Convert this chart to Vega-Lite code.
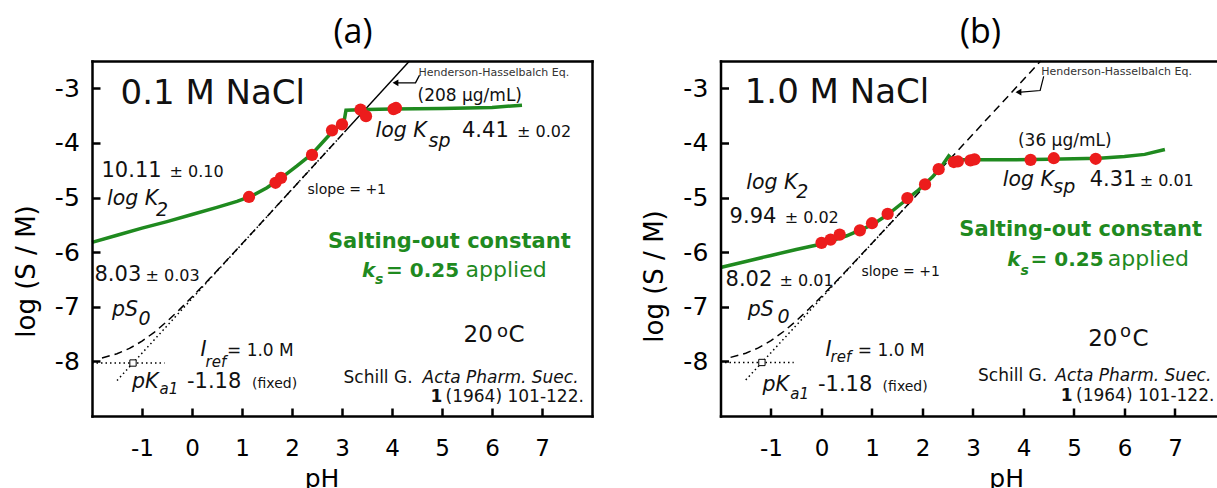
{
  "$schema": "https://vega.github.io/schema/vega-lite/v6.json",
  "padding": {"left": 13, "top": 16, "right": 0, "bottom": 0},
  "bounds": "flush",
  "spacing": 128.5,
  "config": {
    "view": {"stroke": null},
    "font": "DejaVu Sans",
    "axis": {"grid": false, "domainColor": "#000", "domainWidth": 2.5, "domainCap": "square", "tickColor": "#000", "tickWidth": 2.5, "labelColor": "#000", "labelFont": "DejaVu Sans", "titleColor": "#000", "titleFont": "DejaVu Sans", "titleFontWeight": "normal"},
    "text": {"font": "DejaVu Sans", "align": "left", "baseline": "alphabetic", "color": "#111"}
  },
  "datasets": {
    "pts": [
      {"p": "a", "x": 1.14, "y": -4.99}, {"p": "a", "x": 1.67, "y": -4.73}, {"p": "a", "x": 1.78, "y": -4.64}, {"p": "a", "x": 2.40, "y": -4.22}, {"p": "a", "x": 2.80, "y": -3.77}, {"p": "a", "x": 3.00, "y": -3.66}, {"p": "a", "x": 3.37, "y": -3.39}, {"p": "a", "x": 3.48, "y": -3.51}, {"p": "a", "x": 4.03, "y": -3.38}, {"p": "a", "x": 4.08, "y": -3.36},
      {"p": "b", "x": 0.0, "y": -5.83}, {"p": "b", "x": 0.18, "y": -5.77}, {"p": "b", "x": 0.36, "y": -5.68}, {"p": "b", "x": 0.76, "y": -5.60}, {"p": "b", "x": 1.0, "y": -5.47}, {"p": "b", "x": 1.31, "y": -5.30}, {"p": "b", "x": 1.70, "y": -5.01}, {"p": "b", "x": 2.05, "y": -4.76}, {"p": "b", "x": 2.32, "y": -4.48}, {"p": "b", "x": 2.62, "y": -4.35}, {"p": "b", "x": 2.70, "y": -4.34}, {"p": "b", "x": 2.95, "y": -4.32}, {"p": "b", "x": 3.03, "y": -4.30}, {"p": "b", "x": 4.14, "y": -4.31}, {"p": "b", "x": 4.60, "y": -4.28}, {"p": "b", "x": 5.43, "y": -4.29}
    ],
    "fit": [
      {"p": "a", "x": -2, "y": -5.82}, {"p": "a", "x": -1.5, "y": -5.69}, {"p": "a", "x": -1, "y": -5.56}, {"p": "a", "x": -0.5, "y": -5.44}, {"p": "a", "x": 0, "y": -5.31}, {"p": "a", "x": 0.5, "y": -5.18}, {"p": "a", "x": 0.9, "y": -5.07}, {"p": "a", "x": 1.2, "y": -4.97}, {"p": "a", "x": 1.5, "y": -4.82}, {"p": "a", "x": 1.8, "y": -4.63}, {"p": "a", "x": 2.1, "y": -4.42}, {"p": "a", "x": 2.4, "y": -4.2}, {"p": "a", "x": 2.7, "y": -3.9}, {"p": "a", "x": 2.9, "y": -3.71}, {"p": "a", "x": 3.05, "y": -3.56}, {"p": "a", "x": 3.08, "y": -3.4}, {"p": "a", "x": 3.5, "y": -3.39}, {"p": "a", "x": 4.0, "y": -3.38}, {"p": "a", "x": 5.0, "y": -3.37}, {"p": "a", "x": 6.0, "y": -3.35}, {"p": "a", "x": 6.6, "y": -3.31},
      {"p": "b", "x": -2, "y": -6.28}, {"p": "b", "x": -1.5, "y": -6.17}, {"p": "b", "x": -1, "y": -6.06}, {"p": "b", "x": -0.5, "y": -5.95}, {"p": "b", "x": 0, "y": -5.85}, {"p": "b", "x": 0.5, "y": -5.70}, {"p": "b", "x": 1.0, "y": -5.50}, {"p": "b", "x": 1.3, "y": -5.32}, {"p": "b", "x": 1.6, "y": -5.10}, {"p": "b", "x": 1.9, "y": -4.88}, {"p": "b", "x": 2.2, "y": -4.62}, {"p": "b", "x": 2.4, "y": -4.4}, {"p": "b", "x": 2.52, "y": -4.24}, {"p": "b", "x": 2.6, "y": -4.31}, {"p": "b", "x": 3.5, "y": -4.31}, {"p": "b", "x": 4.5, "y": -4.30}, {"p": "b", "x": 5.5, "y": -4.28}, {"p": "b", "x": 6.0, "y": -4.25}, {"p": "b", "x": 6.4, "y": -4.21}, {"p": "b", "x": 6.8, "y": -4.12}
    ],
    "dash": [
      {"p": "a", "x": -1.8, "y": -7.937}, {"p": "a", "x": -1.5, "y": -7.86}, {"p": "a", "x": -1.25, "y": -7.763}, {"p": "a", "x": -1.0, "y": -7.63}, {"p": "a", "x": -0.75, "y": -7.463}, {"p": "a", "x": -0.5, "y": -7.268}, {"p": "a", "x": -0.25, "y": -7.052}, {"p": "a", "x": 0, "y": -6.822}, {"p": "a", "x": 0.25, "y": -6.584}, {"p": "a", "x": 0.5, "y": -6.341}, {"p": "a", "x": 1.0, "y": -5.847}, {"p": "a", "x": 1.5, "y": -5.349}, {"p": "a", "x": 3.05, "y": -3.8},
      {"p": "b", "x": -1.8, "y": -7.927}, {"p": "b", "x": -1.5, "y": -7.85}, {"p": "b", "x": -1.25, "y": -7.753}, {"p": "b", "x": -1.0, "y": -7.62}, {"p": "b", "x": -0.75, "y": -7.453}, {"p": "b", "x": -0.5, "y": -7.258}, {"p": "b", "x": -0.25, "y": -7.042}, {"p": "b", "x": 0, "y": -6.812}, {"p": "b", "x": 0.25, "y": -6.574}, {"p": "b", "x": 0.5, "y": -6.331}, {"p": "b", "x": 1.0, "y": -5.837}, {"p": "b", "x": 1.5, "y": -5.339}, {"p": "b", "x": 4.34, "y": -2.5}
    ],
    "dot": [
      {"p": "a", "g": "s", "x": -1.5, "y": -8.35}, {"p": "a", "g": "s", "x": 2.9, "y": -3.95},
      {"p": "a", "g": "h", "x": -2, "y": -8.03}, {"p": "a", "g": "h", "x": -0.55, "y": -8.03},
      {"p": "b", "g": "s", "x": -1.5, "y": -8.34}, {"p": "b", "g": "s", "x": 1.8, "y": -5.04},
      {"p": "b", "g": "h", "x": -2, "y": -8.02}, {"p": "b", "g": "h", "x": -0.55, "y": -8.02}
    ],
    "thin": [
      {"p": "a", "g": "hh", "x": 3.05, "y": -3.8}, {"p": "a", "g": "hh", "x": 4.35, "y": -2.5},
      {"p": "a", "g": "ar", "x": 4.12, "y": -2.9}, {"p": "a", "g": "ar", "x": 4.47, "y": -2.9}, {"p": "a", "g": "ar", "x": 4.55, "y": -2.76},
      {"p": "b", "g": "ar", "x": 3.95, "y": -3.07}, {"p": "b", "g": "ar", "x": 4.33, "y": -3.04}, {"p": "b", "g": "ar", "x": 4.4, "y": -2.78}
    ],
    "head": [{"p": "a", "x": 4.07, "y": -2.9}, {"p": "b", "x": 3.9, "y": -3.07}],
    "sq": [{"p": "a", "x": -1.18, "y": -8.03}, {"p": "b", "x": -1.18, "y": -8.02}],
    "tBig": [{"p": "a", "x": -1.43, "y": -3.28, "t": "0.1 M NaCl"}, {"p": "b", "x": -1.52, "y": -3.26, "t": "1.0 M NaCl"}],
    "tNum": [
      {"p": "a", "x": -1.81, "y": -4.62, "t": "10.11"}, {"p": "a", "x": -1.95, "y": -6.52, "t": "8.03"}, {"p": "a", "x": 5.40, "y": -3.89, "t": "4.41"}, {"p": "a", "x": -0.10, "y": -8.48, "t": "-1.18"},
      {"p": "b", "x": -1.82, "y": -5.46, "t": "9.94"}, {"p": "b", "x": -1.90, "y": -6.62, "t": "8.02"}, {"p": "b", "x": 5.31, "y": -4.79, "t": "4.31"}, {"p": "b", "x": -0.07, "y": -8.54, "t": "-1.18"}
    ],
    "tPm": [
      {"p": "a", "x": -0.45, "y": -4.62, "t": "± 0.10"}, {"p": "a", "x": -0.93, "y": -6.52, "t": "± 0.03"}, {"p": "a", "x": 6.5, "y": -3.89, "t": "± 0.02"},
      {"p": "b", "x": -0.73, "y": -5.46, "t": "± 0.02"}, {"p": "b", "x": -0.83, "y": -6.62, "t": "± 0.01"}, {"p": "b", "x": 6.3, "y": -4.79, "t": "± 0.01"}
    ],
    "tIt": [
      {"p": "a", "x": -1.70, "y": -5.14, "t": "log K"}, {"p": "a", "x": -1.60, "y": -7.16, "t": "pS"}, {"p": "a", "x": -1.20, "y": -8.48, "t": "pK"}, {"p": "a", "x": 3.67, "y": -3.89, "t": "log K"}, {"p": "a", "x": 0.17, "y": -7.91, "t": "I"},
      {"p": "b", "x": -1.49, "y": -4.85, "t": "log K"}, {"p": "b", "x": -1.46, "y": -7.17, "t": "pS"}, {"p": "b", "x": -1.17, "y": -8.54, "t": "pK"}, {"p": "b", "x": 3.59, "y": -4.79, "t": "log K"}, {"p": "b", "x": 0.08, "y": -7.90, "t": "I"}
    ],
    "tSub": [
      {"p": "a", "x": -0.72, "y": -5.33, "t": "2"}, {"p": "a", "x": -1.07, "y": -7.33, "t": "0"}, {"p": "a", "x": 4.73, "y": -4.07, "t": "sp"},
      {"p": "b", "x": -0.50, "y": -5.0, "t": "2"}, {"p": "b", "x": -0.87, "y": -7.30, "t": "0"}, {"p": "b", "x": 4.59, "y": -4.91, "t": "sp"}
    ],
    "tSubs": [
      {"p": "a", "x": 0.27, "y": -8.1, "t": "ref"}, {"p": "a", "x": -0.65, "y": -8.60, "t": "a1"},
      {"p": "b", "x": 0.18, "y": -8.02, "t": "ref"}, {"p": "b", "x": -0.62, "y": -8.68, "t": "a1"}
    ],
    "tSmall": [
      {"p": "a", "x": 2.31, "y": -4.93, "t": "slope = +1"}, {"p": "a", "x": 1.20, "y": -8.48, "t": "(fixed)"},
      {"p": "b", "x": 0.79, "y": -6.44, "t": "slope = +1"}, {"p": "b", "x": 1.21, "y": -8.54, "t": "(fixed)"}
    ],
    "tHH": [{"p": "a", "x": 4.53, "y": -2.78, "t": "Henderson-Hasselbalch Eq."}, {"p": "b", "x": 4.35, "y": -2.76, "t": "Henderson-Hasselbalch Eq."}],
    "tConc": [{"p": "a", "x": 4.51, "y": -3.24, "t": "(208 μg/mL)"}, {"p": "b", "x": 3.89, "y": -4.06, "t": "(36 μg/mL)"}],
    "tGb": [
      {"p": "a", "x": 2.72, "y": -5.92, "t": "Salting-out constant"},
      {"p": "b", "x": 2.73, "y": -5.70, "t": "Salting-out constant"}
    ],
    "tGb2": [
      {"p": "a", "x": 3.88, "y": -6.46, "t": "= 0.25"},
      {"p": "b", "x": 4.14, "y": -6.25, "t": "= 0.25"}
    ],
    "tGbi": [{"p": "a", "x": 3.40, "y": -6.46, "t": "k"}, {"p": "b", "x": 3.68, "y": -6.25, "t": "k"}],
    "tGbis": [{"p": "a", "x": 3.66, "y": -6.58, "t": "s"}, {"p": "b", "x": 3.94, "y": -6.41, "t": "s"}],
    "tGn": [{"p": "a", "x": 5.47, "y": -6.46, "t": "applied"}, {"p": "b", "x": 5.67, "y": -6.25, "t": "applied"}],
    "tTemp": [{"p": "a", "x": 5.43, "y": -7.65, "t": "20"}, {"p": "a", "x": 6.33, "y": -7.65, "t": "C"}, {"p": "b", "x": 5.28, "y": -7.72, "t": "20"}, {"p": "b", "x": 6.16, "y": -7.72, "t": "C"}],
    "tDeg": [{"p": "a", "x": 6.10, "y": -7.56, "t": "o"}, {"p": "b", "x": 5.91, "y": -7.55, "t": "o"}],
    "tRef": [
      {"p": "a", "x": 3.03, "y": -8.39, "t": "Schill G."}, {"p": "a", "x": 0.70, "y": -7.91, "t": "= 1.0 M"}, {"p": "a", "x": 5.07, "y": -8.75, "t": "(1964) 101-122."},
      {"p": "b", "x": 3.10, "y": -8.36, "t": "Schill G."}, {"p": "b", "x": 0.72, "y": -7.90, "t": "= 1.0 M"}, {"p": "b", "x": 5.04, "y": -8.73, "t": "(1964) 101-122."}
    ],
    "tRefi": [{"p": "a", "x": 4.61, "y": -8.39, "t": "Acta Pharm. Suec."}, {"p": "b", "x": 4.63, "y": -8.36, "t": "Acta Pharm. Suec."}],
    "tRefb": [{"p": "a", "x": 4.77, "y": -8.75, "t": "1"}, {"p": "b", "x": 4.74, "y": -8.73, "t": "1"}]
  },
  "hconcat": [
    {
      "width": 500,
      "height": 355,
      "title": {"text": "(a)", "font": "Open Sans", "fontSize": 34, "fontWeight": "normal", "color": "#000", "anchor": "middle", "dx": 11, "offset": -19, "baseline": "alphabetic"},
      "resolve": {"axis": {"x": "independent", "y": "independent"}},
      "encoding": {
        "x": {"field": "x", "type": "quantitative", "scale": {"domain": [-2, 8], "nice": false, "zero": false}, "axis": null},
        "y": {"field": "y", "type": "quantitative", "scale": {"domain": [-9, -2.5], "nice": false, "zero": false}, "axis": null}
      },
      "layer": [
        {"data": {"name": "dot"}, "transform": [{"filter": "datum.p == 'a'"}], "mark": {"type": "line", "color": "#000", "strokeWidth": 1.5, "strokeDash": [1.5, 3]}, "encoding": {"detail": {"field": "g"}}},
        {"data": {"name": "dash"}, "transform": [{"filter": "datum.p == 'a'"}], "mark": {"type": "line", "color": "#000", "strokeWidth": 1.5, "strokeDash": [8, 5]}, "encoding": {}},
        {"data": {"name": "thin"}, "transform": [{"filter": "datum.p == 'a'"}], "mark": {"type": "line", "color": "#000", "strokeWidth": 1.4}, "encoding": {"detail": {"field": "g"}}},
        {"data": {"name": "head"}, "transform": [{"filter": "datum.p == 'a'"}], "mark": {"type": "point", "shape": "triangle-left", "filled": true, "color": "#000", "size": 45, "opacity": 1}, "encoding": {}},
        {"data": {"name": "fit"}, "transform": [{"filter": "datum.p == 'a'"}], "mark": {"type": "line", "color": "#1f8a1f", "strokeWidth": 3.5},
          "encoding": {
            "x": {"field": "x", "type": "quantitative", "scale": {"domain": [-2, 8], "nice": false, "zero": false},
              "axis": {"orient": "bottom", "values": [-1, 0, 1, 2, 3, 4, 5, 6, 7], "tickSize": -8, "labelFontSize": 23, "labelBaseline": "alphabetic", "labelPadding": 47, "labelExpr": "replace(datum.label, '\u2212', '-')", "title": "pH", "titleFontSize": 25, "titleX": 229.5, "titleY": 70, "titleBaseline": "alphabetic", "titleAlign": "center", "zindex": 1}},
            "y": {"field": "y", "type": "quantitative", "scale": {"domain": [-9, -2.5], "nice": false, "zero": false},
              "axis": {"orient": "left", "values": [-3, -4, -5, -6, -7, -8], "tickSize": -8, "labelFontSize": 25, "labelBaseline": "middle", "labelPadding": 20.7, "labelExpr": "replace(datum.label, '\u2212', '-')", "title": "log (S / M)", "titleFontSize": 26, "titleX": -66, "titleY": 210, "titleAngle": 270, "titleBaseline": "middle", "titleAlign": "center", "zindex": 1}}
          }},
        {"data": {"name": "pts"}, "transform": [{"filter": "datum.p == 'a'"}], "mark": {"type": "point", "shape": "circle", "filled": true, "color": "#ec1c1c", "size": 150, "opacity": 1},
          "encoding": {
            "x": {"field": "x", "type": "quantitative", "scale": {"domain": [-2, 8], "nice": false, "zero": false},
              "axis": {"orient": "top", "ticks": false, "labels": false, "title": null, "minExtent": 0, "maxExtent": 0, "zindex": 1}},
            "y": {"field": "y", "type": "quantitative", "scale": {"domain": [-9, -2.5], "nice": false, "zero": false},
              "axis": {"orient": "right", "ticks": false, "labels": false, "title": null, "minExtent": 0, "maxExtent": 0, "zindex": 1}}
          }},
        {"data": {"name": "sq"}, "transform": [{"filter": "datum.p == 'a'"}], "mark": {"type": "point", "shape": "square", "filled": true, "fill": "#fff", "stroke": "#000", "strokeWidth": 1, "size": 40, "opacity": 1}, "encoding": {}},
        {"data": {"name": "tBig"}, "transform": [{"filter": "datum.p == 'a'"}], "mark": {"type": "text", "fontSize": 34}, "encoding": {"text": {"field": "t"}}},
        {"data": {"name": "tNum"}, "transform": [{"filter": "datum.p == 'a'"}], "mark": {"type": "text", "fontSize": 21}, "encoding": {"text": {"field": "t"}}},
        {"data": {"name": "tPm"}, "transform": [{"filter": "datum.p == 'a'"}], "mark": {"type": "text", "fontSize": 16}, "encoding": {"text": {"field": "t"}}},
        {"data": {"name": "tIt"}, "transform": [{"filter": "datum.p == 'a'"}], "mark": {"type": "text", "fontSize": 20.5, "fontStyle": "italic"}, "encoding": {"text": {"field": "t"}}},
        {"data": {"name": "tSub"}, "transform": [{"filter": "datum.p == 'a'"}], "mark": {"type": "text", "fontSize": 19, "fontStyle": "italic"}, "encoding": {"text": {"field": "t"}}},
        {"data": {"name": "tSubs"}, "transform": [{"filter": "datum.p == 'a'"}], "mark": {"type": "text", "fontSize": 15, "fontStyle": "italic"}, "encoding": {"text": {"field": "t"}}},
        {"data": {"name": "tSmall"}, "transform": [{"filter": "datum.p == 'a'"}], "mark": {"type": "text", "fontSize": 14}, "encoding": {"text": {"field": "t"}}},
        {"data": {"name": "tHH"}, "transform": [{"filter": "datum.p == 'a'"}], "mark": {"type": "text", "fontSize": 11, "color": "#333"}, "encoding": {"text": {"field": "t"}}},
        {"data": {"name": "tConc"}, "transform": [{"filter": "datum.p == 'a'"}], "mark": {"type": "text", "fontSize": 17}, "encoding": {"text": {"field": "t"}}},
        {"data": {"name": "tGb"}, "transform": [{"filter": "datum.p == 'a'"}], "mark": {"type": "text", "fontSize": 21, "fontWeight": "bold", "color": "#1f8a1f"}, "encoding": {"text": {"field": "t"}}},
        {"data": {"name": "tGb2"}, "transform": [{"filter": "datum.p == 'a'"}], "mark": {"type": "text", "fontSize": 20, "fontWeight": "bold", "color": "#1f8a1f"}, "encoding": {"text": {"field": "t"}}},
        {"data": {"name": "tGbi"}, "transform": [{"filter": "datum.p == 'a'"}], "mark": {"type": "text", "fontSize": 20, "fontWeight": "bold", "fontStyle": "italic", "color": "#1f8a1f"}, "encoding": {"text": {"field": "t"}}},
        {"data": {"name": "tGbis"}, "transform": [{"filter": "datum.p == 'a'"}], "mark": {"type": "text", "fontSize": 14, "fontWeight": "bold", "fontStyle": "italic", "color": "#1f8a1f"}, "encoding": {"text": {"field": "t"}}},
        {"data": {"name": "tGn"}, "transform": [{"filter": "datum.p == 'a'"}], "mark": {"type": "text", "fontSize": 22, "color": "#1f8a1f"}, "encoding": {"text": {"field": "t"}}},
        {"data": {"name": "tTemp"}, "transform": [{"filter": "datum.p == 'a'"}], "mark": {"type": "text", "fontSize": 23}, "encoding": {"text": {"field": "t"}}},
        {"data": {"name": "tDeg"}, "transform": [{"filter": "datum.p == 'a'"}], "mark": {"type": "text", "fontSize": 18}, "encoding": {"text": {"field": "t"}}},
        {"data": {"name": "tRef"}, "transform": [{"filter": "datum.p == 'a'"}], "mark": {"type": "text", "fontSize": 17}, "encoding": {"text": {"field": "t"}}},
        {"data": {"name": "tRefi"}, "transform": [{"filter": "datum.p == 'a'"}], "mark": {"type": "text", "fontSize": 17, "fontStyle": "italic"}, "encoding": {"text": {"field": "t"}}},
        {"data": {"name": "tRefb"}, "transform": [{"filter": "datum.p == 'a'"}], "mark": {"type": "text", "fontSize": 17, "fontWeight": "bold"}, "encoding": {"text": {"field": "t"}}}
      ]
    },
    {
      "width": 496,
      "height": 355,
      "title": {"text": "(b)", "font": "Open Sans", "fontSize": 34, "fontWeight": "normal", "color": "#000", "anchor": "middle", "dx": 12, "offset": -19, "baseline": "alphabetic"},
      "resolve": {"axis": {"x": "independent", "y": "independent"}},
      "encoding": {
        "x": {"field": "x", "type": "quantitative", "scale": {"domain": [-2, 7.822], "nice": false, "zero": false}, "axis": null},
        "y": {"field": "y", "type": "quantitative", "scale": {"domain": [-9, -2.5], "nice": false, "zero": false}, "axis": null}
      },
      "layer": [
        {"data": {"name": "dot"}, "transform": [{"filter": "datum.p == 'b'"}], "mark": {"type": "line", "color": "#000", "strokeWidth": 1.5, "strokeDash": [1.5, 3]}, "encoding": {"detail": {"field": "g"}}},
        {"data": {"name": "dash"}, "transform": [{"filter": "datum.p == 'b'"}], "mark": {"type": "line", "color": "#000", "strokeWidth": 1.5, "strokeDash": [8, 5]}, "encoding": {}},
        {"data": {"name": "thin"}, "transform": [{"filter": "datum.p == 'b'"}], "mark": {"type": "line", "color": "#000", "strokeWidth": 1.2}, "encoding": {"detail": {"field": "g"}}},
        {"data": {"name": "head"}, "transform": [{"filter": "datum.p == 'b'"}], "mark": {"type": "point", "shape": "triangle-left", "filled": true, "color": "#000", "size": 45, "opacity": 1}, "encoding": {}},
        {"data": {"name": "fit"}, "transform": [{"filter": "datum.p == 'b'"}], "mark": {"type": "line", "color": "#1f8a1f", "strokeWidth": 3.5},
          "encoding": {
            "x": {"field": "x", "type": "quantitative", "scale": {"domain": [-2, 7.822], "nice": false, "zero": false},
              "axis": {"orient": "bottom", "values": [-1, 0, 1, 2, 3, 4, 5, 6, 7], "tickSize": -8, "labelFontSize": 23, "labelBaseline": "alphabetic", "labelPadding": 47, "labelExpr": "replace(datum.label, '\u2212', '-')", "title": "pH", "titleFontSize": 25, "titleX": 285.7, "titleY": 70, "titleBaseline": "alphabetic", "titleAlign": "center", "zindex": 1}},
            "y": {"field": "y", "type": "quantitative", "scale": {"domain": [-9, -2.5], "nice": false, "zero": false},
              "axis": {"orient": "left", "values": [-3, -4, -5, -6, -7, -8], "tickSize": -8, "labelFontSize": 25, "labelBaseline": "middle", "labelPadding": 20.7, "labelExpr": "replace(datum.label, '\u2212', '-')", "title": "log (S / M)", "titleFontSize": 26, "titleX": -66, "titleY": 215, "titleAngle": 270, "titleBaseline": "middle", "titleAlign": "center", "zindex": 1}}
          }},
        {"data": {"name": "pts"}, "transform": [{"filter": "datum.p == 'b'"}], "mark": {"type": "point", "shape": "circle", "filled": true, "color": "#ec1c1c", "size": 150, "opacity": 1},
          "encoding": {
            "x": {"field": "x", "type": "quantitative", "scale": {"domain": [-2, 7.822], "nice": false, "zero": false},
              "axis": {"orient": "top", "ticks": false, "labels": false, "title": null, "minExtent": 0, "maxExtent": 0, "zindex": 1}},
            "y": {"field": "y", "type": "quantitative", "scale": {"domain": [-9, -2.5], "nice": false, "zero": false}, "axis": null}
          }},
        {"data": {"name": "sq"}, "transform": [{"filter": "datum.p == 'b'"}], "mark": {"type": "point", "shape": "square", "filled": true, "fill": "#fff", "stroke": "#000", "strokeWidth": 1, "size": 40, "opacity": 1}, "encoding": {}},
        {"data": {"name": "tBig"}, "transform": [{"filter": "datum.p == 'b'"}], "mark": {"type": "text", "fontSize": 34}, "encoding": {"text": {"field": "t"}}},
        {"data": {"name": "tNum"}, "transform": [{"filter": "datum.p == 'b'"}], "mark": {"type": "text", "fontSize": 21}, "encoding": {"text": {"field": "t"}}},
        {"data": {"name": "tPm"}, "transform": [{"filter": "datum.p == 'b'"}], "mark": {"type": "text", "fontSize": 16}, "encoding": {"text": {"field": "t"}}},
        {"data": {"name": "tIt"}, "transform": [{"filter": "datum.p == 'b'"}], "mark": {"type": "text", "fontSize": 20.5, "fontStyle": "italic"}, "encoding": {"text": {"field": "t"}}},
        {"data": {"name": "tSub"}, "transform": [{"filter": "datum.p == 'b'"}], "mark": {"type": "text", "fontSize": 19, "fontStyle": "italic"}, "encoding": {"text": {"field": "t"}}},
        {"data": {"name": "tSubs"}, "transform": [{"filter": "datum.p == 'b'"}], "mark": {"type": "text", "fontSize": 15, "fontStyle": "italic"}, "encoding": {"text": {"field": "t"}}},
        {"data": {"name": "tSmall"}, "transform": [{"filter": "datum.p == 'b'"}], "mark": {"type": "text", "fontSize": 14}, "encoding": {"text": {"field": "t"}}},
        {"data": {"name": "tHH"}, "transform": [{"filter": "datum.p == 'b'"}], "mark": {"type": "text", "fontSize": 11, "color": "#333"}, "encoding": {"text": {"field": "t"}}},
        {"data": {"name": "tConc"}, "transform": [{"filter": "datum.p == 'b'"}], "mark": {"type": "text", "fontSize": 17}, "encoding": {"text": {"field": "t"}}},
        {"data": {"name": "tGb"}, "transform": [{"filter": "datum.p == 'b'"}], "mark": {"type": "text", "fontSize": 21, "fontWeight": "bold", "color": "#1f8a1f"}, "encoding": {"text": {"field": "t"}}},
        {"data": {"name": "tGb2"}, "transform": [{"filter": "datum.p == 'b'"}], "mark": {"type": "text", "fontSize": 20, "fontWeight": "bold", "color": "#1f8a1f"}, "encoding": {"text": {"field": "t"}}},
        {"data": {"name": "tGbi"}, "transform": [{"filter": "datum.p == 'b'"}], "mark": {"type": "text", "fontSize": 20, "fontWeight": "bold", "fontStyle": "italic", "color": "#1f8a1f"}, "encoding": {"text": {"field": "t"}}},
        {"data": {"name": "tGbis"}, "transform": [{"filter": "datum.p == 'b'"}], "mark": {"type": "text", "fontSize": 14, "fontWeight": "bold", "fontStyle": "italic", "color": "#1f8a1f"}, "encoding": {"text": {"field": "t"}}},
        {"data": {"name": "tGn"}, "transform": [{"filter": "datum.p == 'b'"}], "mark": {"type": "text", "fontSize": 22, "color": "#1f8a1f"}, "encoding": {"text": {"field": "t"}}},
        {"data": {"name": "tTemp"}, "transform": [{"filter": "datum.p == 'b'"}], "mark": {"type": "text", "fontSize": 23}, "encoding": {"text": {"field": "t"}}},
        {"data": {"name": "tDeg"}, "transform": [{"filter": "datum.p == 'b'"}], "mark": {"type": "text", "fontSize": 18}, "encoding": {"text": {"field": "t"}}},
        {"data": {"name": "tRef"}, "transform": [{"filter": "datum.p == 'b'"}], "mark": {"type": "text", "fontSize": 17}, "encoding": {"text": {"field": "t"}}},
        {"data": {"name": "tRefi"}, "transform": [{"filter": "datum.p == 'b'"}], "mark": {"type": "text", "fontSize": 17, "fontStyle": "italic"}, "encoding": {"text": {"field": "t"}}},
        {"data": {"name": "tRefb"}, "transform": [{"filter": "datum.p == 'b'"}], "mark": {"type": "text", "fontSize": 17, "fontWeight": "bold"}, "encoding": {"text": {"field": "t"}}}
      ]
    }
  ]
}
